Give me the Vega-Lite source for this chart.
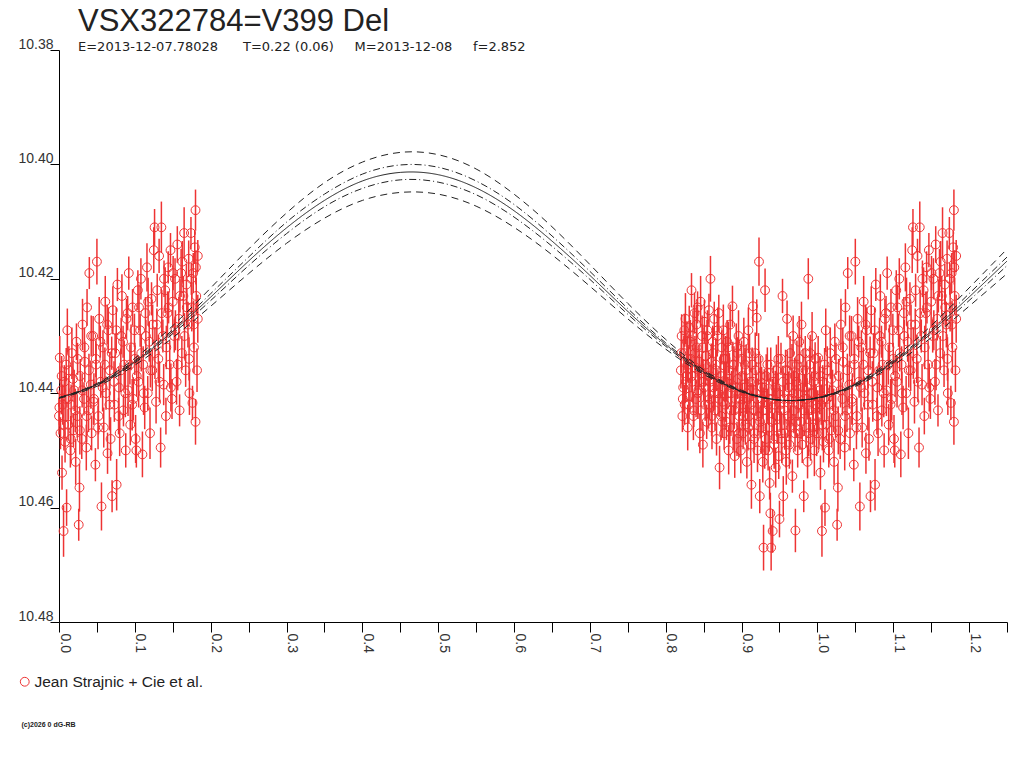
{
  "$schema": "https://vega.github.io/schema/vega-lite/v6.json",
  "autosize": "none",
  "padding": {"left": 59, "top": 50, "right": 17, "bottom": 146},
  "width": 948,
  "height": 572,
  "background": "white",
  "config": {"view": {"stroke": null}},
  "title": {
    "text": "VSX322784=V399 Del",
    "subtitle": "E=2013-12-07.78028\u00a0\u00a0\u00a0\u00a0\u00a0\u00a0T=0.22 (0.06)\u00a0\u00a0\u00a0\u00a0\u00a0M=2013-12-08\u00a0\u00a0\u00a0\u00a0\u00a0f=2.852",
    "anchor": "start",
    "frame": "group",
    "dx": 19,
    "offset": -18,
    "font": "Liberation Sans",
    "fontSize": 31,
    "fontWeight": "normal",
    "color": "#222",
    "subtitleFont": "DejaVu Sans",
    "subtitleFontSize": 13,
    "subtitleColor": "#222",
    "subtitlePadding": 3
  },
  "datasets": {
    "obs": [
      {"p":0.000,"q":1.000,"m":10.4440,"e":0.0032},
      {"p":0.001,"q":1.001,"m":10.4338,"e":0.0038},
      {"p":0.002,"q":1.002,"m":10.4470,"e":0.0028},
      {"p":0.003,"q":1.003,"m":10.4395,"e":0.0042},
      {"p":0.004,"q":1.004,"m":10.4539,"e":0.0030},
      {"p":0.005,"q":1.005,"m":10.4420,"e":0.0035},
      {"p":0.006,"q":1.006,"m":10.4641,"e":0.0045},
      {"p":0.007,"q":1.007,"m":10.4380,"e":0.0029},
      {"p":0.008,"q":1.008,"m":10.4485,"e":0.0036},
      {"p":0.009,"q":1.009,"m":10.4410,"e":0.0040},
      {"p":0.010,"q":1.010,"m":10.4600,"e":0.0032},
      {"p":0.011,"q":1.011,"m":10.4290,"e":0.0038},
      {"p":0.012,"q":1.012,"m":10.4455,"e":0.0028},
      {"p":0.013,"q":1.013,"m":10.4360,"e":0.0042},
      {"p":0.015,"q":1.015,"m":10.4500,"e":0.0030},
      {"p":0.016,"q":1.016,"m":10.4420,"e":0.0035},
      {"p":0.017,"q":1.017,"m":10.4330,"e":0.0045},
      {"p":0.019,"q":1.019,"m":10.4465,"e":0.0029},
      {"p":0.020,"q":1.020,"m":10.4395,"e":0.0036},
      {"p":0.022,"q":1.022,"m":10.4520,"e":0.0040},
      {"p":0.023,"q":1.023,"m":10.4310,"e":0.0032},
      {"p":0.024,"q":1.024,"m":10.4440,"e":0.0038},
      {"p":0.026,"q":1.026,"m":10.4630,"e":0.0028},
      {"p":0.027,"q":1.027,"m":10.4565,"e":0.0042},
      {"p":0.028,"q":1.028,"m":10.4370,"e":0.0030},
      {"p":0.030,"q":1.030,"m":10.4480,"e":0.0035},
      {"p":0.031,"q":1.031,"m":10.4280,"e":0.0045},
      {"p":0.033,"q":1.033,"m":10.4410,"e":0.0029},
      {"p":0.034,"q":1.034,"m":10.4345,"e":0.0036},
      {"p":0.036,"q":1.036,"m":10.4495,"e":0.0040},
      {"p":0.037,"q":1.037,"m":10.4250,"e":0.0032},
      {"p":0.039,"q":1.039,"m":10.4430,"e":0.0038},
      {"p":0.040,"q":1.040,"m":10.4190,"e":0.0028},
      {"p":0.042,"q":1.042,"m":10.4385,"e":0.0042},
      {"p":0.043,"q":1.043,"m":10.4470,"e":0.0030},
      {"p":0.045,"q":1.045,"m":10.4300,"e":0.0035},
      {"p":0.046,"q":1.046,"m":10.4410,"e":0.0045},
      {"p":0.048,"q":1.048,"m":10.4525,"e":0.0029},
      {"p":0.049,"q":1.049,"m":10.4350,"e":0.0036},
      {"p":0.050,"q":1.050,"m":10.4170,"e":0.0040},
      {"p":0.052,"q":1.052,"m":10.4440,"e":0.0032},
      {"p":0.053,"q":1.053,"m":10.4270,"e":0.0038},
      {"p":0.055,"q":1.055,"m":10.4380,"e":0.0028},
      {"p":0.056,"q":1.056,"m":10.4598,"e":0.0042},
      {"p":0.058,"q":1.058,"m":10.4320,"e":0.0030},
      {"p":0.059,"q":1.059,"m":10.4460,"e":0.0035},
      {"p":0.061,"q":1.061,"m":10.4240,"e":0.0045},
      {"p":0.062,"q":1.062,"m":10.4400,"e":0.0029},
      {"p":0.064,"q":1.064,"m":10.4505,"e":0.0036},
      {"p":0.065,"q":1.065,"m":10.4290,"e":0.0040},
      {"p":0.067,"q":1.067,"m":10.4360,"e":0.0032},
      {"p":0.068,"q":1.068,"m":10.4480,"e":0.0038},
      {"p":0.070,"q":1.070,"m":10.4580,"e":0.0028},
      {"p":0.071,"q":1.071,"m":10.4255,"e":0.0042},
      {"p":0.073,"q":1.073,"m":10.4420,"e":0.0030},
      {"p":0.074,"q":1.074,"m":10.4330,"e":0.0035},
      {"p":0.076,"q":1.076,"m":10.4560,"e":0.0045},
      {"p":0.077,"q":1.077,"m":10.4210,"e":0.0029},
      {"p":0.079,"q":1.079,"m":10.4390,"e":0.0036},
      {"p":0.080,"q":1.080,"m":10.4470,"e":0.0040},
      {"p":0.082,"q":1.082,"m":10.4300,"e":0.0032},
      {"p":0.083,"q":1.083,"m":10.4230,"e":0.0038},
      {"p":0.085,"q":1.085,"m":10.4430,"e":0.0028},
      {"p":0.086,"q":1.086,"m":10.4350,"e":0.0042},
      {"p":0.088,"q":1.088,"m":10.4500,"e":0.0030},
      {"p":0.089,"q":1.089,"m":10.4270,"e":0.0035},
      {"p":0.091,"q":1.091,"m":10.4395,"e":0.0045},
      {"p":0.092,"q":1.092,"m":10.4190,"e":0.0029},
      {"p":0.094,"q":1.094,"m":10.4455,"e":0.0036},
      {"p":0.095,"q":1.095,"m":10.4320,"e":0.0040},
      {"p":0.097,"q":1.097,"m":10.4250,"e":0.0032},
      {"p":0.098,"q":1.098,"m":10.4410,"e":0.0038},
      {"p":0.100,"q":1.100,"m":10.4340,"e":0.0028},
      {"p":0.101,"q":1.101,"m":10.4480,"e":0.0042},
      {"p":0.102,"q":1.102,"m":10.4500,"e":0.0030},
      {"p":0.104,"q":1.104,"m":10.4220,"e":0.0035},
      {"p":0.105,"q":1.105,"m":10.4380,"e":0.0045},
      {"p":0.107,"q":1.107,"m":10.4290,"e":0.0029},
      {"p":0.108,"q":1.108,"m":10.4200,"e":0.0036},
      {"p":0.110,"q":1.110,"m":10.4507,"e":0.0040},
      {"p":0.111,"q":1.111,"m":10.4350,"e":0.0032},
      {"p":0.113,"q":1.113,"m":10.4425,"e":0.0038},
      {"p":0.114,"q":1.114,"m":10.4260,"e":0.0028},
      {"p":0.116,"q":1.116,"m":10.4180,"e":0.0042},
      {"p":0.117,"q":1.117,"m":10.4400,"e":0.0030},
      {"p":0.119,"q":1.119,"m":10.4310,"e":0.0035},
      {"p":0.120,"q":1.120,"m":10.4470,"e":0.0045},
      {"p":0.122,"q":1.122,"m":10.4235,"e":0.0029},
      {"p":0.123,"q":1.123,"m":10.4360,"e":0.0036},
      {"p":0.125,"q":1.125,"m":10.4150,"e":0.0040},
      {"p":0.126,"q":1.126,"m":10.4110,"e":0.0032},
      {"p":0.128,"q":1.128,"m":10.4415,"e":0.0038},
      {"p":0.129,"q":1.129,"m":10.4280,"e":0.0028},
      {"p":0.131,"q":1.131,"m":10.4340,"e":0.0042},
      {"p":0.132,"q":1.132,"m":10.4160,"e":0.0030},
      {"p":0.134,"q":1.134,"m":10.4495,"e":0.0035},
      {"p":0.135,"q":1.135,"m":10.4110,"e":0.0045},
      {"p":0.137,"q":1.137,"m":10.4300,"e":0.0029},
      {"p":0.138,"q":1.138,"m":10.4385,"e":0.0036},
      {"p":0.140,"q":1.140,"m":10.4220,"e":0.0040},
      {"p":0.141,"q":1.141,"m":10.4440,"e":0.0032},
      {"p":0.143,"q":1.143,"m":10.4260,"e":0.0038},
      {"p":0.144,"q":1.144,"m":10.4180,"e":0.0028},
      {"p":0.146,"q":1.146,"m":10.4350,"e":0.0042},
      {"p":0.147,"q":1.147,"m":10.4150,"e":0.0030},
      {"p":0.149,"q":1.149,"m":10.4410,"e":0.0035},
      {"p":0.150,"q":1.150,"m":10.4240,"e":0.0045},
      {"p":0.152,"q":1.152,"m":10.4300,"e":0.0029},
      {"p":0.153,"q":1.153,"m":10.4200,"e":0.0036},
      {"p":0.155,"q":1.155,"m":10.4380,"e":0.0040},
      {"p":0.156,"q":1.156,"m":10.4140,"e":0.0032},
      {"p":0.158,"q":1.158,"m":10.4270,"e":0.0038},
      {"p":0.159,"q":1.159,"m":10.4430,"e":0.0028},
      {"p":0.161,"q":1.161,"m":10.4190,"e":0.0042},
      {"p":0.162,"q":1.162,"m":10.4330,"e":0.0030},
      {"p":0.164,"q":1.164,"m":10.4230,"e":0.0035},
      {"p":0.165,"q":1.165,"m":10.4120,"e":0.0045},
      {"p":0.167,"q":1.167,"m":10.4360,"e":0.0029},
      {"p":0.168,"q":1.168,"m":10.4210,"e":0.0036},
      {"p":0.170,"q":1.170,"m":10.4280,"e":0.0040},
      {"p":0.171,"q":1.171,"m":10.4165,"e":0.0032},
      {"p":0.172,"q":1.172,"m":10.4400,"e":0.0038},
      {"p":0.174,"q":1.174,"m":10.4120,"e":0.0028},
      {"p":0.175,"q":1.175,"m":10.4250,"e":0.0042},
      {"p":0.176,"q":1.176,"m":10.4417,"e":0.0030},
      {"p":0.177,"q":1.177,"m":10.4190,"e":0.0035},
      {"p":0.178,"q":1.178,"m":10.4320,"e":0.0045},
      {"p":0.179,"q":1.179,"m":10.4145,"e":0.0029},
      {"p":0.180,"q":1.180,"m":10.4080,"e":0.0036},
      {"p":0.180,"q":1.180,"m":10.4450,"e":0.0040},
      {"p":0.181,"q":1.181,"m":10.4230,"e":0.0032},
      {"p":0.182,"q":1.182,"m":10.4360,"e":0.0038},
      {"p":0.183,"q":1.183,"m":10.4160,"e":0.0028},
      {"p":0.183,"q":1.183,"m":10.4270,"e":0.0042},
      {"p":0.0005,"q":1.0005,"m":10.4425,"e":0.0030},
      {"p":0.0035,"q":1.0035,"m":10.4370,"e":0.0035},
      {"p":0.0065,"q":1.0065,"m":10.4455,"e":0.0045},
      {"p":0.0095,"q":1.0095,"m":10.4350,"e":0.0029},
      {"p":0.0125,"q":1.0125,"m":10.4410,"e":0.0036},
      {"p":0.0155,"q":1.0155,"m":10.4480,"e":0.0040},
      {"p":0.0185,"q":1.0185,"m":10.4375,"e":0.0032},
      {"p":0.0215,"q":1.0215,"m":10.4430,"e":0.0038},
      {"p":0.0245,"q":1.0245,"m":10.4340,"e":0.0028},
      {"p":0.0275,"q":1.0275,"m":10.4465,"e":0.0042},
      {"p":0.0305,"q":1.0305,"m":10.4395,"e":0.0030},
      {"p":0.0335,"q":1.0335,"m":10.4320,"e":0.0035},
      {"p":0.0365,"q":1.0365,"m":10.4440,"e":0.0045},
      {"p":0.0395,"q":1.0395,"m":10.4360,"e":0.0029},
      {"p":0.0425,"q":1.0425,"m":10.4300,"e":0.0036},
      {"p":0.0455,"q":1.0455,"m":10.4415,"e":0.0040},
      {"p":0.0485,"q":1.0485,"m":10.4340,"e":0.0032},
      {"p":0.0515,"q":1.0515,"m":10.4460,"e":0.0038},
      {"p":0.0545,"q":1.0545,"m":10.4310,"e":0.0028},
      {"p":0.0575,"q":1.0575,"m":10.4390,"e":0.0042},
      {"p":0.0605,"q":1.0605,"m":10.4350,"e":0.0030},
      {"p":0.0635,"q":1.0635,"m":10.4280,"e":0.0035},
      {"p":0.0665,"q":1.0665,"m":10.4420,"e":0.0045},
      {"p":0.0695,"q":1.0695,"m":10.4330,"e":0.0029},
      {"p":0.0725,"q":1.0725,"m":10.4380,"e":0.0036},
      {"p":0.0755,"q":1.0755,"m":10.4290,"e":0.0040},
      {"p":0.0785,"q":1.0785,"m":10.4440,"e":0.0032},
      {"p":0.0815,"q":1.0815,"m":10.4360,"e":0.0038},
      {"p":0.0845,"q":1.0845,"m":10.4310,"e":0.0028},
      {"p":0.0875,"q":1.0875,"m":10.4400,"e":0.0042},
      {"p":0.0905,"q":1.0905,"m":10.4260,"e":0.0030},
      {"p":0.0935,"q":1.0935,"m":10.4350,"e":0.0035},
      {"p":0.0965,"q":1.0965,"m":10.4420,"e":0.0045},
      {"p":0.0995,"q":1.0995,"m":10.4290,"e":0.0029},
      {"p":0.1025,"q":1.1025,"m":10.4370,"e":0.0036},
      {"p":0.1055,"q":1.1055,"m":10.4250,"e":0.0040},
      {"p":0.1085,"q":1.1085,"m":10.4330,"e":0.0032},
      {"p":0.1115,"q":1.1115,"m":10.4400,"e":0.0038},
      {"p":0.1145,"q":1.1145,"m":10.4300,"e":0.0028},
      {"p":0.1175,"q":1.1175,"m":10.4240,"e":0.0042},
      {"p":0.1205,"q":1.1205,"m":10.4360,"e":0.0030},
      {"p":0.1235,"q":1.1235,"m":10.4280,"e":0.0035},
      {"p":0.1265,"q":1.1265,"m":10.4330,"e":0.0045},
      {"p":0.1295,"q":1.1295,"m":10.4220,"e":0.0029},
      {"p":0.1325,"q":1.1325,"m":10.4380,"e":0.0036},
      {"p":0.1355,"q":1.1355,"m":10.4260,"e":0.0040},
      {"p":0.1385,"q":1.1385,"m":10.4200,"e":0.0032},
      {"p":0.1415,"q":1.1415,"m":10.4320,"e":0.0038},
      {"p":0.1445,"q":1.1445,"m":10.4250,"e":0.0028},
      {"p":0.1475,"q":1.1475,"m":10.4390,"e":0.0042},
      {"p":0.1505,"q":1.1505,"m":10.4190,"e":0.0030},
      {"p":0.1535,"q":1.1535,"m":10.4290,"e":0.0035},
      {"p":0.1565,"q":1.1565,"m":10.4350,"e":0.0045},
      {"p":0.1595,"q":1.1595,"m":10.4230,"e":0.0029},
      {"p":0.1625,"q":1.1625,"m":10.4170,"e":0.0036},
      {"p":0.1655,"q":1.1655,"m":10.4300,"e":0.0040},
      {"p":0.1685,"q":1.1685,"m":10.4250,"e":0.0032},
      {"p":0.1715,"q":1.1715,"m":10.4340,"e":0.0038},
      {"p":0.1745,"q":1.1745,"m":10.4200,"e":0.0028},
      {"p":0.1775,"q":1.1775,"m":10.4280,"e":0.0042},
      {"p":0.1805,"q":1.1805,"m":10.4180,"e":0.0030},
      {"p":0.820,"m":10.4360,"e":0.0032},
      {"p":0.821,"m":10.4300,"e":0.0038},
      {"p":0.822,"m":10.4440,"e":0.0028},
      {"p":0.823,"m":10.4390,"e":0.0042},
      {"p":0.824,"m":10.4330,"e":0.0030},
      {"p":0.825,"m":10.4420,"e":0.0035},
      {"p":0.826,"m":10.4270,"e":0.0045},
      {"p":0.827,"m":10.4370,"e":0.0029},
      {"p":0.828,"m":10.4310,"e":0.0036},
      {"p":0.829,"m":10.4460,"e":0.0040},
      {"p":0.830,"m":10.4350,"e":0.0032},
      {"p":0.831,"m":10.4285,"e":0.0038},
      {"p":0.832,"m":10.4405,"e":0.0028},
      {"p":0.833,"m":10.4340,"e":0.0042},
      {"p":0.834,"m":10.4220,"e":0.0030},
      {"p":0.835,"m":10.4380,"e":0.0035},
      {"p":0.836,"m":10.4300,"e":0.0045},
      {"p":0.837,"m":10.4430,"e":0.0029},
      {"p":0.838,"m":10.4260,"e":0.0036},
      {"p":0.839,"m":10.4355,"e":0.0040},
      {"p":0.840,"m":10.4410,"e":0.0032},
      {"p":0.841,"m":10.4320,"e":0.0038},
      {"p":0.842,"m":10.4250,"e":0.0028},
      {"p":0.843,"m":10.4395,"e":0.0042},
      {"p":0.844,"m":10.4345,"e":0.0030},
      {"p":0.845,"m":10.4470,"e":0.0035},
      {"p":0.846,"m":10.4240,"e":0.0045},
      {"p":0.847,"m":10.4365,"e":0.0029},
      {"p":0.848,"m":10.4300,"e":0.0036},
      {"p":0.849,"m":10.4490,"e":0.0040},
      {"p":0.850,"m":10.4380,"e":0.0032},
      {"p":0.851,"m":10.4275,"e":0.0038},
      {"p":0.852,"m":10.4420,"e":0.0028},
      {"p":0.853,"m":10.4335,"e":0.0042},
      {"p":0.854,"m":10.4450,"e":0.0030},
      {"p":0.855,"m":10.4290,"e":0.0035},
      {"p":0.856,"m":10.4370,"e":0.0045},
      {"p":0.857,"m":10.4255,"e":0.0029},
      {"p":0.858,"m":10.4410,"e":0.0036},
      {"p":0.859,"m":10.4200,"e":0.0040},
      {"p":0.860,"m":10.4345,"e":0.0032},
      {"p":0.861,"m":10.4460,"e":0.0038},
      {"p":0.862,"m":10.4310,"e":0.0028},
      {"p":0.863,"m":10.4390,"e":0.0042},
      {"p":0.864,"m":10.4270,"e":0.0030},
      {"p":0.865,"m":10.4430,"e":0.0035},
      {"p":0.866,"m":10.4350,"e":0.0045},
      {"p":0.867,"m":10.4480,"e":0.0029},
      {"p":0.868,"m":10.4300,"e":0.0036},
      {"p":0.869,"m":10.4400,"e":0.0040},
      {"p":0.870,"m":10.4260,"e":0.0032},
      {"p":0.871,"m":10.4530,"e":0.0038},
      {"p":0.872,"m":10.4365,"e":0.0028},
      {"p":0.873,"m":10.4440,"e":0.0042},
      {"p":0.874,"m":10.4320,"e":0.0030},
      {"p":0.875,"m":10.4415,"e":0.0035},
      {"p":0.876,"m":10.4290,"e":0.0045},
      {"p":0.877,"m":10.4470,"e":0.0029},
      {"p":0.878,"m":10.4380,"e":0.0036},
      {"p":0.879,"m":10.4340,"e":0.0040},
      {"p":0.880,"m":10.4450,"e":0.0032},
      {"p":0.881,"m":10.4310,"e":0.0038},
      {"p":0.882,"m":10.4400,"e":0.0028},
      {"p":0.883,"m":10.4500,"e":0.0042},
      {"p":0.884,"m":10.4360,"e":0.0030},
      {"p":0.885,"m":10.4280,"e":0.0035},
      {"p":0.886,"m":10.4430,"e":0.0045},
      {"p":0.887,"m":10.4390,"e":0.0029},
      {"p":0.888,"m":10.4248,"e":0.0036},
      {"p":0.889,"m":10.4460,"e":0.0040},
      {"p":0.890,"m":10.4350,"e":0.0032},
      {"p":0.891,"m":10.4510,"e":0.0038},
      {"p":0.892,"m":10.4410,"e":0.0028},
      {"p":0.893,"m":10.4320,"e":0.0042},
      {"p":0.894,"m":10.4480,"e":0.0030},
      {"p":0.895,"m":10.4375,"e":0.0035},
      {"p":0.896,"m":10.4300,"e":0.0045},
      {"p":0.897,"m":10.4440,"e":0.0029},
      {"p":0.898,"m":10.4400,"e":0.0036},
      {"p":0.899,"m":10.4500,"e":0.0040},
      {"p":0.900,"m":10.4340,"e":0.0032},
      {"p":0.901,"m":10.4420,"e":0.0038},
      {"p":0.902,"m":10.4470,"e":0.0028},
      {"p":0.903,"m":10.4310,"e":0.0042},
      {"p":0.904,"m":10.4390,"e":0.0030},
      {"p":0.905,"m":10.4455,"e":0.0035},
      {"p":0.906,"m":10.4360,"e":0.0045},
      {"p":0.907,"m":10.4520,"e":0.0029},
      {"p":0.908,"m":10.4410,"e":0.0036},
      {"p":0.909,"m":10.4290,"e":0.0040},
      {"p":0.910,"m":10.4440,"e":0.0032},
      {"p":0.911,"m":10.4380,"e":0.0038},
      {"p":0.912,"m":10.4490,"e":0.0028},
      {"p":0.913,"m":10.4560,"e":0.0042},
      {"p":0.914,"m":10.4350,"e":0.0030},
      {"p":0.915,"m":10.4248,"e":0.0035},
      {"p":0.916,"m":10.4430,"e":0.0045},
      {"p":0.917,"m":10.4470,"e":0.0029},
      {"p":0.918,"m":10.4330,"e":0.0036},
      {"p":0.919,"m":10.4400,"e":0.0040},
      {"p":0.920,"m":10.4268,"e":0.0032},
      {"p":0.921,"m":10.4500,"e":0.0038},
      {"p":0.922,"m":10.4440,"e":0.0028},
      {"p":0.923,"m":10.4170,"e":0.0042},
      {"p":0.924,"m":10.4580,"e":0.0030},
      {"p":0.925,"m":10.4370,"e":0.0035},
      {"p":0.926,"m":10.4460,"e":0.0045},
      {"p":0.927,"m":10.4410,"e":0.0029},
      {"p":0.928,"m":10.4520,"e":0.0036},
      {"p":0.929,"m":10.4670,"e":0.0040},
      {"p":0.930,"m":10.4390,"e":0.0032},
      {"p":0.931,"m":10.4220,"e":0.0038},
      {"p":0.932,"m":10.4480,"e":0.0028},
      {"p":0.933,"m":10.4430,"e":0.0042},
      {"p":0.934,"m":10.4350,"e":0.0030},
      {"p":0.935,"m":10.4500,"e":0.0035},
      {"p":0.936,"m":10.4410,"e":0.0045},
      {"p":0.937,"m":10.4557,"e":0.0029},
      {"p":0.938,"m":10.4610,"e":0.0036},
      {"p":0.939,"m":10.4670,"e":0.0040},
      {"p":0.940,"m":10.4450,"e":0.0032},
      {"p":0.941,"m":10.4641,"e":0.0038},
      {"p":0.942,"m":10.4380,"e":0.0028},
      {"p":0.943,"m":10.4490,"e":0.0042},
      {"p":0.944,"m":10.4420,"e":0.0030},
      {"p":0.945,"m":10.4530,"e":0.0035},
      {"p":0.946,"m":10.4360,"e":0.0045},
      {"p":0.947,"m":10.4460,"e":0.0029},
      {"p":0.948,"m":10.4400,"e":0.0036},
      {"p":0.949,"m":10.4510,"e":0.0040},
      {"p":0.950,"m":10.4620,"e":0.0032},
      {"p":0.951,"m":10.4430,"e":0.0038},
      {"p":0.952,"m":10.4340,"e":0.0028},
      {"p":0.953,"m":10.4480,"e":0.0042},
      {"p":0.954,"m":10.4230,"e":0.0030},
      {"p":0.955,"m":10.4580,"e":0.0035},
      {"p":0.956,"m":10.4410,"e":0.0045},
      {"p":0.957,"m":10.4470,"e":0.0029},
      {"p":0.958,"m":10.4360,"e":0.0036},
      {"p":0.959,"m":10.4520,"e":0.0040},
      {"p":0.960,"m":10.4270,"e":0.0032},
      {"p":0.961,"m":10.4440,"e":0.0038},
      {"p":0.962,"m":10.4390,"e":0.0028},
      {"p":0.963,"m":10.4490,"e":0.0042},
      {"p":0.964,"m":10.4330,"e":0.0030},
      {"p":0.965,"m":10.4460,"e":0.0035},
      {"p":0.966,"m":10.4410,"e":0.0045},
      {"p":0.967,"m":10.4545,"e":0.0029},
      {"p":0.968,"m":10.4300,"e":0.0036},
      {"p":0.969,"m":10.4430,"e":0.0040},
      {"p":0.970,"m":10.4370,"e":0.0032},
      {"p":0.971,"m":10.4640,"e":0.0038},
      {"p":0.972,"m":10.4450,"e":0.0028},
      {"p":0.973,"m":10.4350,"e":0.0042},
      {"p":0.974,"m":10.4500,"e":0.0030},
      {"p":0.975,"m":10.4400,"e":0.0035},
      {"p":0.976,"m":10.4310,"e":0.0045},
      {"p":0.977,"m":10.4470,"e":0.0029},
      {"p":0.978,"m":10.4420,"e":0.0036},
      {"p":0.979,"m":10.4280,"e":0.0040},
      {"p":0.980,"m":10.4490,"e":0.0032},
      {"p":0.981,"m":10.4360,"e":0.0038},
      {"p":0.982,"m":10.4580,"e":0.0028},
      {"p":0.983,"m":10.4410,"e":0.0042},
      {"p":0.984,"m":10.4330,"e":0.0030},
      {"p":0.985,"m":10.4460,"e":0.0035},
      {"p":0.986,"m":10.4390,"e":0.0045},
      {"p":0.987,"m":10.4520,"e":0.0029},
      {"p":0.988,"m":10.4200,"e":0.0036},
      {"p":0.989,"m":10.4430,"e":0.0040},
      {"p":0.990,"m":10.4350,"e":0.0032},
      {"p":0.991,"m":10.4480,"e":0.0038},
      {"p":0.992,"m":10.4400,"e":0.0028},
      {"p":0.993,"m":10.4300,"e":0.0042},
      {"p":0.994,"m":10.4460,"e":0.0030},
      {"p":0.995,"m":10.4380,"e":0.0035},
      {"p":0.996,"m":10.4500,"e":0.0045},
      {"p":0.997,"m":10.4340,"e":0.0029},
      {"p":0.998,"m":10.4420,"e":0.0036},
      {"p":0.999,"m":10.4470,"e":0.0040},
      {"p":0.8205,"m":10.4330,"e":0.0035},
      {"p":0.8225,"m":10.4410,"e":0.0045},
      {"p":0.8245,"m":10.4290,"e":0.0029},
      {"p":0.8265,"m":10.4380,"e":0.0036},
      {"p":0.8285,"m":10.4340,"e":0.0040},
      {"p":0.8305,"m":10.4420,"e":0.0032},
      {"p":0.8325,"m":10.4310,"e":0.0038},
      {"p":0.8345,"m":10.4370,"e":0.0028},
      {"p":0.8365,"m":10.4440,"e":0.0042},
      {"p":0.8385,"m":10.4330,"e":0.0030},
      {"p":0.8405,"m":10.4280,"e":0.0035},
      {"p":0.8425,"m":10.4400,"e":0.0045},
      {"p":0.8445,"m":10.4360,"e":0.0029},
      {"p":0.8465,"m":10.4430,"e":0.0036},
      {"p":0.8485,"m":10.4320,"e":0.0040},
      {"p":0.8505,"m":10.4390,"e":0.0032},
      {"p":0.8525,"m":10.4350,"e":0.0038},
      {"p":0.8545,"m":10.4300,"e":0.0028},
      {"p":0.8565,"m":10.4420,"e":0.0042},
      {"p":0.8585,"m":10.4380,"e":0.0030},
      {"p":0.8605,"m":10.4440,"e":0.0035},
      {"p":0.8625,"m":10.4330,"e":0.0045},
      {"p":0.8645,"m":10.4400,"e":0.0029},
      {"p":0.8665,"m":10.4360,"e":0.0036},
      {"p":0.8685,"m":10.4290,"e":0.0040},
      {"p":0.8705,"m":10.4410,"e":0.0032},
      {"p":0.8725,"m":10.4370,"e":0.0038},
      {"p":0.8745,"m":10.4450,"e":0.0028},
      {"p":0.8765,"m":10.4340,"e":0.0042},
      {"p":0.8785,"m":10.4420,"e":0.0030},
      {"p":0.8805,"m":10.4380,"e":0.0035},
      {"p":0.8825,"m":10.4320,"e":0.0045},
      {"p":0.8845,"m":10.4460,"e":0.0029},
      {"p":0.8865,"m":10.4400,"e":0.0036},
      {"p":0.8885,"m":10.4350,"e":0.0040},
      {"p":0.8905,"m":10.4430,"e":0.0032},
      {"p":0.8925,"m":10.4390,"e":0.0038},
      {"p":0.8945,"m":10.4330,"e":0.0028},
      {"p":0.8965,"m":10.4470,"e":0.0042},
      {"p":0.8985,"m":10.4410,"e":0.0030},
      {"p":0.9005,"m":10.4370,"e":0.0035},
      {"p":0.9025,"m":10.4440,"e":0.0045},
      {"p":0.9045,"m":10.4350,"e":0.0029},
      {"p":0.9065,"m":10.4400,"e":0.0036},
      {"p":0.9085,"m":10.4460,"e":0.0040},
      {"p":0.9105,"m":10.4330,"e":0.0032},
      {"p":0.9125,"m":10.4420,"e":0.0038},
      {"p":0.9145,"m":10.4380,"e":0.0028},
      {"p":0.9165,"m":10.4480,"e":0.0042},
      {"p":0.9185,"m":10.4360,"e":0.0030},
      {"p":0.9205,"m":10.4410,"e":0.0035},
      {"p":0.9225,"m":10.4340,"e":0.0045},
      {"p":0.9245,"m":10.4450,"e":0.0029},
      {"p":0.9265,"m":10.4390,"e":0.0036},
      {"p":0.9285,"m":10.4430,"e":0.0040},
      {"p":0.9305,"m":10.4500,"e":0.0032},
      {"p":0.9325,"m":10.4370,"e":0.0038},
      {"p":0.9345,"m":10.4420,"e":0.0028},
      {"p":0.9365,"m":10.4460,"e":0.0042},
      {"p":0.9385,"m":10.4350,"e":0.0030},
      {"p":0.9405,"m":10.4410,"e":0.0035},
      {"p":0.9425,"m":10.4480,"e":0.0045},
      {"p":0.9445,"m":10.4390,"e":0.0029},
      {"p":0.9465,"m":10.4440,"e":0.0036},
      {"p":0.9485,"m":10.4340,"e":0.0040},
      {"p":0.9505,"m":10.4420,"e":0.0032},
      {"p":0.9525,"m":10.4470,"e":0.0038},
      {"p":0.9545,"m":10.4380,"e":0.0028},
      {"p":0.9565,"m":10.4430,"e":0.0042},
      {"p":0.9585,"m":10.4500,"e":0.0030},
      {"p":0.9605,"m":10.4360,"e":0.0035},
      {"p":0.9625,"m":10.4410,"e":0.0045},
      {"p":0.9645,"m":10.4450,"e":0.0029},
      {"p":0.9665,"m":10.4350,"e":0.0036},
      {"p":0.9685,"m":10.4400,"e":0.0040},
      {"p":0.9705,"m":10.4470,"e":0.0032},
      {"p":0.9725,"m":10.4380,"e":0.0038},
      {"p":0.9745,"m":10.4420,"e":0.0028},
      {"p":0.9765,"m":10.4340,"e":0.0042},
      {"p":0.9785,"m":10.4450,"e":0.0030},
      {"p":0.9805,"m":10.4390,"e":0.0035},
      {"p":0.9825,"m":10.4430,"e":0.0045},
      {"p":0.9845,"m":10.4360,"e":0.0029},
      {"p":0.9865,"m":10.4410,"e":0.0036},
      {"p":0.9885,"m":10.4470,"e":0.0040},
      {"p":0.9905,"m":10.4330,"e":0.0032},
      {"p":0.9925,"m":10.4400,"e":0.0038},
      {"p":0.9945,"m":10.4440,"e":0.0028},
      {"p":0.9965,"m":10.4370,"e":0.0042},
      {"p":0.9985,"m":10.4420,"e":0.0030}
    ],
    "fit": [
      {"k":"fit","x":0.00,"m":10.4408},{"k":"fit","x":0.05,"m":10.4385},{"k":"fit","x":0.10,"m":10.4345},{"k":"fit","x":0.15,"m":10.4292},{"k":"fit","x":0.20,"m":10.4232},{"k":"fit","x":0.25,"m":10.4169},{"k":"fit","x":0.30,"m":10.4111},{"k":"fit","x":0.35,"m":10.4063},{"k":"fit","x":0.40,"m":10.4029},{"k":"fit","x":0.45,"m":10.4014},{"k":"fit","x":0.50,"m":10.4018},{"k":"fit","x":0.55,"m":10.4041},{"k":"fit","x":0.60,"m":10.4081},{"k":"fit","x":0.65,"m":10.4134},{"k":"fit","x":0.70,"m":10.4194},{"k":"fit","x":0.75,"m":10.4257},{"k":"fit","x":0.80,"m":10.4315},{"k":"fit","x":0.85,"m":10.4363},{"k":"fit","x":0.90,"m":10.4397},{"k":"fit","x":0.95,"m":10.4412},{"k":"fit","x":1.00,"m":10.4408},{"k":"fit","x":1.05,"m":10.4385},{"k":"fit","x":1.10,"m":10.4345},{"k":"fit","x":1.15,"m":10.4292},{"k":"fit","x":1.20,"m":10.4232},{"k":"fit","x":1.25,"m":10.4169},
      {"k":"d1","x":0.00,"m":10.4408},{"k":"d1","x":0.05,"m":10.4383},{"k":"d1","x":0.10,"m":10.4339},{"k":"d1","x":0.15,"m":10.4282},{"k":"d1","x":0.20,"m":10.4216},{"k":"d1","x":0.25,"m":10.4148},{"k":"d1","x":0.30,"m":10.4085},{"k":"d1","x":0.35,"m":10.4032},{"k":"d1","x":0.40,"m":10.3996},{"k":"d1","x":0.45,"m":10.3979},{"k":"d1","x":0.50,"m":10.3983},{"k":"d1","x":0.55,"m":10.4008},{"k":"d1","x":0.60,"m":10.4052},{"k":"d1","x":0.65,"m":10.4109},{"k":"d1","x":0.70,"m":10.4175},{"k":"d1","x":0.75,"m":10.4243},{"k":"d1","x":0.80,"m":10.4306},{"k":"d1","x":0.85,"m":10.4359},{"k":"d1","x":0.90,"m":10.4395},{"k":"d1","x":0.95,"m":10.4412},{"k":"d1","x":1.00,"m":10.4408},{"k":"d1","x":1.05,"m":10.4383},{"k":"d1","x":1.10,"m":10.4339},{"k":"d1","x":1.15,"m":10.4282},{"k":"d1","x":1.20,"m":10.4216},{"k":"d1","x":1.25,"m":10.4148},
      {"k":"d2","x":0.00,"m":10.4409},{"k":"d2","x":0.05,"m":10.4388},{"k":"d2","x":0.10,"m":10.4351},{"k":"d2","x":0.15,"m":10.4303},{"k":"d2","x":0.20,"m":10.4248},{"k":"d2","x":0.25,"m":10.4191},{"k":"d2","x":0.30,"m":10.4138},{"k":"d2","x":0.35,"m":10.4094},{"k":"d2","x":0.40,"m":10.4063},{"k":"d2","x":0.45,"m":10.4049},{"k":"d2","x":0.50,"m":10.4052},{"k":"d2","x":0.55,"m":10.4073},{"k":"d2","x":0.60,"m":10.4110},{"k":"d2","x":0.65,"m":10.4158},{"k":"d2","x":0.70,"m":10.4213},{"k":"d2","x":0.75,"m":10.4270},{"k":"d2","x":0.80,"m":10.4323},{"k":"d2","x":0.85,"m":10.4367},{"k":"d2","x":0.90,"m":10.4398},{"k":"d2","x":0.95,"m":10.4412},{"k":"d2","x":1.00,"m":10.4409},{"k":"d2","x":1.05,"m":10.4388},{"k":"d2","x":1.10,"m":10.4351},{"k":"d2","x":1.15,"m":10.4303},{"k":"d2","x":1.20,"m":10.4248},{"k":"d2","x":1.25,"m":10.4191},
      {"k":"dd1","x":0.00,"m":10.4408},{"k":"dd1","x":0.05,"m":10.4384},{"k":"dd1","x":0.10,"m":10.4343},{"k":"dd1","x":0.15,"m":10.4289},{"k":"dd1","x":0.20,"m":10.4226},{"k":"dd1","x":0.25,"m":10.4162},{"k":"dd1","x":0.30,"m":10.4101},{"k":"dd1","x":0.35,"m":10.4052},{"k":"dd1","x":0.40,"m":10.4017},{"k":"dd1","x":0.45,"m":10.4001},{"k":"dd1","x":0.50,"m":10.4005},{"k":"dd1","x":0.55,"m":10.4029},{"k":"dd1","x":0.60,"m":10.4070},{"k":"dd1","x":0.65,"m":10.4125},{"k":"dd1","x":0.70,"m":10.4187},{"k":"dd1","x":0.75,"m":10.4252},{"k":"dd1","x":0.80,"m":10.4312},{"k":"dd1","x":0.85,"m":10.4361},{"k":"dd1","x":0.90,"m":10.4396},{"k":"dd1","x":0.95,"m":10.4412},{"k":"dd1","x":1.00,"m":10.4408},{"k":"dd1","x":1.05,"m":10.4384},{"k":"dd1","x":1.10,"m":10.4343},{"k":"dd1","x":1.15,"m":10.4289},{"k":"dd1","x":1.20,"m":10.4226},{"k":"dd1","x":1.25,"m":10.4162},
      {"k":"dd2","x":0.00,"m":10.4408},{"k":"dd2","x":0.05,"m":10.4386},{"k":"dd2","x":0.10,"m":10.4347},{"k":"dd2","x":0.15,"m":10.4296},{"k":"dd2","x":0.20,"m":10.4238},{"k":"dd2","x":0.25,"m":10.4177},{"k":"dd2","x":0.30,"m":10.4121},{"k":"dd2","x":0.35,"m":10.4074},{"k":"dd2","x":0.40,"m":10.4042},{"k":"dd2","x":0.45,"m":10.4027},{"k":"dd2","x":0.50,"m":10.4031},{"k":"dd2","x":0.55,"m":10.4053},{"k":"dd2","x":0.60,"m":10.4092},{"k":"dd2","x":0.65,"m":10.4143},{"k":"dd2","x":0.70,"m":10.4201},{"k":"dd2","x":0.75,"m":10.4262},{"k":"dd2","x":0.80,"m":10.4318},{"k":"dd2","x":0.85,"m":10.4365},{"k":"dd2","x":0.90,"m":10.4397},{"k":"dd2","x":0.95,"m":10.4412},{"k":"dd2","x":1.00,"m":10.4408},{"k":"dd2","x":1.05,"m":10.4386},{"k":"dd2","x":1.10,"m":10.4347},{"k":"dd2","x":1.15,"m":10.4296},{"k":"dd2","x":1.20,"m":10.4238},{"k":"dd2","x":1.25,"m":10.4177}
    ]
  },
  "encoding": {
    "x": {
      "field": "x",
      "type": "quantitative",
      "scale": {"domain": [0, 1.25], "nice": false, "zero": false},
      "axis": {
        "values": [0,0.05,0.1,0.15,0.2,0.25,0.3,0.35,0.4,0.45,0.5,0.55,0.6,0.65,0.7,0.75,0.8,0.85,0.9,0.95,1,1.05,1.1,1.15,1.2,1.25],
        "labelExpr": "abs(datum.value*10 - round(datum.value*10)) < 0.01 && datum.value < 1.21 ? format(datum.value, '.1f') : ''",
        "labelAngle": 90,
        "labelAlign": "left",
        "labelBaseline": "alphabetic",
        "labelPadding": 1,
        "labelOffset": 1,
        "labelFlush": false,
        "labelOverlap": false,
        "labelFont": "Liberation Sans",
        "labelFontSize": 14,
        "labelColor": "#333",
        "tickSize": 10,
        "tickColor": "#000",
        "domainColor": "#000",
        "grid": false,
        "title": "(c)2026 0 dG-RB",
        "titleX": -38,
        "titleY": 102,
        "titleAlign": "left",
        "titleBaseline": "middle",
        "titleAngle": 0,
        "titleFont": "Liberation Sans",
        "titleFontSize": 7,
        "titleFontWeight": "bold",
        "titleColor": "#222"
      }
    },
    "y": {
      "field": "m",
      "type": "quantitative",
      "scale": {"domain": [10.38, 10.48], "reverse": true, "nice": false, "zero": false},
      "axis": {
        "values": [10.38, 10.40, 10.42, 10.44, 10.46, 10.48],
        "format": ".2f",
        "labelAlign": "right",
        "labelBaseline": "alphabetic",
        "labelPadding": -3,
        "labelOffset": -2,
        "labelFont": "Liberation Sans",
        "labelFontSize": 14,
        "labelColor": "#333",
        "tickSize": 9,
        "tickColor": "#000",
        "domainColor": "#000",
        "grid": false,
        "title": null
      }
    }
  },
  "layer": [
    {
      "data": {"name": "obs"},
      "transform": [
        {"fold": ["p", "q"], "as": ["w", "x"]},
        {"filter": "isValid(datum.x)"}
      ],
      "mark": {"type": "errorbar", "color": "#ee3333", "thickness": 1.5},
      "encoding": {
        "yError": {"field": "e"}
      }
    },
    {
      "data": {"name": "obs"},
      "transform": [
        {"fold": ["p", "q"], "as": ["w", "x"]},
        {"filter": "isValid(datum.x)"}
      ],
      "mark": {"type": "point", "shape": "circle", "filled": false, "size": 78, "strokeWidth": 1, "opacity": 1},
      "encoding": {
        "color": {
          "datum": "Jean Strajnic + Cie et al.",
          "scale": {"range": ["#ee3333"]},
          "legend": {
            "title": null,
            "orient": "none",
            "legendX": -42,
            "legendY": 624,
            "padding": 0,
            "labelFont": "Liberation Sans",
            "labelFontSize": 15.5,
            "labelColor": "#222",
            "labelLimit": 0,
            "labelOffset": 2,
            "symbolSize": 78,
            "symbolStrokeWidth": 1,
            "symbolType": "circle"
          }
        }
      }
    },
    {
      "data": {"name": "fit"},
      "mark": {"type": "line", "color": "#222", "strokeWidth": 1, "interpolate": "natural"},
      "encoding": {
        "detail": {"field": "k"},
        "strokeDash": {
          "field": "k",
          "type": "nominal",
          "scale": {"domain": ["fit", "dd1", "dd2", "d1", "d2"], "range": [[1, 0], [7, 3, 1, 3], [7, 3, 1, 3], [7, 5], [7, 5]]},
          "legend": null
        }
      }
    },
    {
      "data": {"values": [{}]},
      "mark": {"type": "text", "text": "Provisoire", "angle": -45, "font": "Liberation Sans", "fontSize": 22, "color": "#222", "align": "center", "baseline": "middle"},
      "encoding": {
        "x": {"datum": 1.185},
        "y": {"datum": 10.4721}
      }
    }
  ]
}
